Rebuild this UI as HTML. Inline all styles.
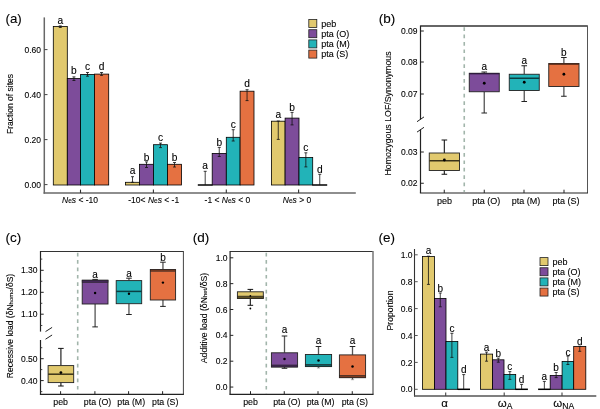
<!DOCTYPE html>
<html lang="en"><head><meta charset="utf-8"><title>Figure</title>
<style>
html,body{margin:0;padding:0;background:#fff;}
body{width:600px;height:409px;overflow:hidden;}
svg{display:block;font-family:"Liberation Sans",sans-serif;}
text{fill:#000;text-anchor:middle;stroke:#000;stroke-width:0.1px;}
.s{text-anchor:start}.e{text-anchor:end}
</style></head><body>
<svg width="600" height="409" viewBox="0 0 600 409">
<rect x="0" y="0" width="600" height="409" fill="#fff"/>
<text x="5.5" y="23.3" font-size="13.3" class="s">(a)</text>
<line x1="44.3" y1="17.4" x2="44.3" y2="193.7" stroke="#686868" stroke-width="1.5" />
<line x1="43.6" y1="193" x2="355.8" y2="193" stroke="#686868" stroke-width="1.5" />
<line x1="44.3" y1="184.6" x2="47.5" y2="184.6" stroke="#444" stroke-width="1" />
<text x="41" y="187.7" font-size="8.5" class="e">0.00</text>
<line x1="44.3" y1="139.6" x2="47.5" y2="139.6" stroke="#444" stroke-width="1" />
<text x="41" y="142.7" font-size="8.5" class="e">0.20</text>
<line x1="44.3" y1="94.6" x2="47.5" y2="94.6" stroke="#444" stroke-width="1" />
<text x="41" y="97.7" font-size="8.5" class="e">0.40</text>
<line x1="44.3" y1="49.6" x2="47.5" y2="49.6" stroke="#444" stroke-width="1" />
<text x="41" y="52.7" font-size="8.5" class="e">0.60</text>
<line x1="80.5" y1="193" x2="80.5" y2="189.6" stroke="#333" stroke-width="1.1" />
<line x1="153.4" y1="193" x2="153.4" y2="189.6" stroke="#333" stroke-width="1.1" />
<line x1="226.3" y1="193" x2="226.3" y2="189.6" stroke="#333" stroke-width="1.1" />
<line x1="298.6" y1="193" x2="298.6" y2="189.6" stroke="#333" stroke-width="1.1" />
<text transform="translate(12.5 104) rotate(-90)" font-size="8.5">Fraction of sites</text>
<rect x="53.3" y="26.4" width="14" height="158.6" fill="#E1C96E" stroke="#000" stroke-width="0.8"/>
<line x1="60.3" y1="25.9" x2="60.3" y2="27.5" stroke="#111" stroke-width="0.8" />
<line x1="58.8" y1="25.9" x2="61.8" y2="25.9" stroke="#111" stroke-width="0.8" />
<line x1="58.8" y1="27.5" x2="61.8" y2="27.5" stroke="#111" stroke-width="0.8" />
<text x="60.3" y="23.7" font-size="10.2">a</text>
<rect x="67.3" y="78.5" width="13.3" height="106.5" fill="#7D4C9A" stroke="#000" stroke-width="0.8"/>
<line x1="73.95" y1="76.9" x2="73.95" y2="80.5" stroke="#111" stroke-width="0.8" />
<line x1="72.45" y1="76.9" x2="75.45" y2="76.9" stroke="#111" stroke-width="0.8" />
<line x1="72.45" y1="80.5" x2="75.45" y2="80.5" stroke="#111" stroke-width="0.8" />
<text x="73.95" y="74.1" font-size="10.2">b</text>
<rect x="80.6" y="74.5" width="13.8" height="110.5" fill="#22B3B8" stroke="#000" stroke-width="0.8"/>
<line x1="87.5" y1="72.5" x2="87.5" y2="76.2" stroke="#111" stroke-width="0.8" />
<line x1="86" y1="72.5" x2="89" y2="72.5" stroke="#111" stroke-width="0.8" />
<line x1="86" y1="76.2" x2="89" y2="76.2" stroke="#111" stroke-width="0.8" />
<text x="87.5" y="70.3" font-size="10.2">c</text>
<rect x="94.4" y="74.1" width="14.3" height="110.9" fill="#E57141" stroke="#000" stroke-width="0.8"/>
<line x1="101.55" y1="72.5" x2="101.55" y2="75.4" stroke="#111" stroke-width="0.8" />
<line x1="100.05" y1="72.5" x2="103.05" y2="72.5" stroke="#111" stroke-width="0.8" />
<line x1="100.05" y1="75.4" x2="103.05" y2="75.4" stroke="#111" stroke-width="0.8" />
<text x="101.55" y="70.3" font-size="10.2">d</text>
<rect x="125.5" y="182.3" width="14" height="2.7" fill="#E1C96E" stroke="#000" stroke-width="0.8"/>
<line x1="132.5" y1="176.7" x2="132.5" y2="182.3" stroke="#111" stroke-width="0.8" />
<line x1="131" y1="176.7" x2="134" y2="176.7" stroke="#111" stroke-width="0.8" />
<line x1="131" y1="182.3" x2="134" y2="182.3" stroke="#111" stroke-width="0.8" />
<text x="132.5" y="174.3" font-size="10.2">a</text>
<rect x="139.5" y="164.3" width="14" height="20.7" fill="#7D4C9A" stroke="#000" stroke-width="0.8"/>
<line x1="146.5" y1="161.9" x2="146.5" y2="167.5" stroke="#111" stroke-width="0.8" />
<line x1="145" y1="161.9" x2="148" y2="161.9" stroke="#111" stroke-width="0.8" />
<line x1="145" y1="167.5" x2="148" y2="167.5" stroke="#111" stroke-width="0.8" />
<text x="146.5" y="160.6" font-size="10.2">b</text>
<rect x="153.5" y="144.7" width="14" height="40.3" fill="#22B3B8" stroke="#000" stroke-width="0.8"/>
<line x1="160.5" y1="143.1" x2="160.5" y2="147.6" stroke="#111" stroke-width="0.8" />
<line x1="159" y1="143.1" x2="162" y2="143.1" stroke="#111" stroke-width="0.8" />
<line x1="159" y1="147.6" x2="162" y2="147.6" stroke="#111" stroke-width="0.8" />
<text x="160.5" y="140.7" font-size="10.2">c</text>
<rect x="167.5" y="164.3" width="14" height="20.7" fill="#E57141" stroke="#000" stroke-width="0.8"/>
<line x1="174.5" y1="162.5" x2="174.5" y2="167" stroke="#111" stroke-width="0.8" />
<line x1="173" y1="162.5" x2="176" y2="162.5" stroke="#111" stroke-width="0.8" />
<line x1="173" y1="167" x2="176" y2="167" stroke="#111" stroke-width="0.8" />
<text x="174.5" y="160.6" font-size="10.2">b</text>
<line x1="197.8" y1="185" x2="212.6" y2="185" stroke="#000" stroke-width="1.5" />
<line x1="205.2" y1="171.3" x2="205.2" y2="185" stroke="#111" stroke-width="0.8" />
<line x1="203.7" y1="171.3" x2="206.7" y2="171.3" stroke="#111" stroke-width="0.8" />
<text x="205.2" y="168.6" font-size="10.2">a</text>
<rect x="212.2" y="153.4" width="14.1" height="31.6" fill="#7D4C9A" stroke="#000" stroke-width="0.8"/>
<line x1="219.25" y1="147.4" x2="219.25" y2="156.5" stroke="#111" stroke-width="0.8" />
<line x1="217.75" y1="147.4" x2="220.75" y2="147.4" stroke="#111" stroke-width="0.8" />
<line x1="217.75" y1="156.5" x2="220.75" y2="156.5" stroke="#111" stroke-width="0.8" />
<text x="219.25" y="145.8" font-size="10.2">b</text>
<rect x="226.3" y="137.3" width="13.8" height="47.7" fill="#22B3B8" stroke="#000" stroke-width="0.8"/>
<line x1="233.2" y1="129.7" x2="233.2" y2="141" stroke="#111" stroke-width="0.8" />
<line x1="231.7" y1="129.7" x2="234.7" y2="129.7" stroke="#111" stroke-width="0.8" />
<line x1="231.7" y1="141" x2="234.7" y2="141" stroke="#111" stroke-width="0.8" />
<text x="233.2" y="127.6" font-size="10.2">c</text>
<rect x="240.1" y="91.2" width="13.9" height="93.8" fill="#E57141" stroke="#000" stroke-width="0.8"/>
<line x1="247.05" y1="89.7" x2="247.05" y2="100.6" stroke="#111" stroke-width="0.8" />
<line x1="245.55" y1="89.7" x2="248.55" y2="89.7" stroke="#111" stroke-width="0.8" />
<line x1="245.55" y1="100.6" x2="248.55" y2="100.6" stroke="#111" stroke-width="0.8" />
<text x="247.05" y="86.8" font-size="10.2">d</text>
<rect x="271.4" y="121.2" width="13.7" height="63.8" fill="#E1C96E" stroke="#000" stroke-width="0.8"/>
<line x1="278.25" y1="121" x2="278.25" y2="139.4" stroke="#111" stroke-width="0.8" />
<line x1="276.75" y1="121" x2="279.75" y2="121" stroke="#111" stroke-width="0.8" />
<line x1="276.75" y1="139.4" x2="279.75" y2="139.4" stroke="#111" stroke-width="0.8" />
<text x="278.25" y="118.4" font-size="10.2">a</text>
<rect x="285.1" y="118.1" width="13.9" height="66.9" fill="#7D4C9A" stroke="#000" stroke-width="0.8"/>
<line x1="292.05" y1="112.4" x2="292.05" y2="124.9" stroke="#111" stroke-width="0.8" />
<line x1="290.55" y1="112.4" x2="293.55" y2="112.4" stroke="#111" stroke-width="0.8" />
<line x1="290.55" y1="124.9" x2="293.55" y2="124.9" stroke="#111" stroke-width="0.8" />
<text x="292.05" y="110.8" font-size="10.2">b</text>
<rect x="299" y="157.5" width="13.7" height="27.5" fill="#22B3B8" stroke="#000" stroke-width="0.8"/>
<line x1="305.85" y1="152.8" x2="305.85" y2="166.9" stroke="#111" stroke-width="0.8" />
<line x1="304.35" y1="152.8" x2="307.35" y2="152.8" stroke="#111" stroke-width="0.8" />
<line x1="304.35" y1="166.9" x2="307.35" y2="166.9" stroke="#111" stroke-width="0.8" />
<text x="305.85" y="150.8" font-size="10.2">c</text>
<line x1="312.3" y1="185" x2="327.2" y2="185" stroke="#000" stroke-width="1.5" />
<line x1="319.75" y1="174.3" x2="319.75" y2="185" stroke="#111" stroke-width="0.8" />
<line x1="318.25" y1="174.3" x2="321.25" y2="174.3" stroke="#111" stroke-width="0.8" />
<text x="319.75" y="172.6" font-size="10.2">d</text>
<text x="80" y="203" font-size="8.5"><tspan font-style="italic">N</tspan><tspan font-size="6.5">e</tspan><tspan font-style="italic">s</tspan> &lt; -10</text>
<text x="153.7" y="203" font-size="8.5">-10&lt; <tspan font-style="italic">N</tspan><tspan font-size="6.5">e</tspan><tspan font-style="italic">s</tspan> &lt; -1</text>
<text x="227.4" y="203" font-size="8.5">-1 &lt; <tspan font-style="italic">N</tspan><tspan font-size="6.5">e</tspan><tspan font-style="italic">s</tspan> &lt; 0</text>
<text x="297" y="203" font-size="8.5"><tspan font-style="italic">N</tspan><tspan font-size="6.5">e</tspan><tspan font-style="italic">s</tspan> &gt; 0</text>
<rect x="308.8" y="19.5" width="8" height="8" fill="#E1C96E" stroke="#222" stroke-width="0.8"/>
<text x="321.3" y="26.7" font-size="9" class="s">peb</text>
<rect x="308.8" y="29.7" width="8" height="8" fill="#7D4C9A" stroke="#222" stroke-width="0.8"/>
<text x="321.3" y="36.9" font-size="9" class="s">pta (O)</text>
<rect x="308.8" y="39.9" width="8" height="8" fill="#22B3B8" stroke="#222" stroke-width="0.8"/>
<text x="321.3" y="47.1" font-size="9" class="s">pta (M)</text>
<rect x="308.8" y="50.1" width="8" height="8" fill="#E57141" stroke="#222" stroke-width="0.8"/>
<text x="321.3" y="57.3" font-size="9" class="s">pta (S)</text>
<text x="378.7" y="23.2" font-size="13.5" class="s">(b)</text>
<line x1="464.25" y1="27.2" x2="464.25" y2="192" stroke="#A2B5AB" stroke-width="1.6" stroke-dasharray="3.7 3.7"/>
<line x1="420.5" y1="26" x2="587.5" y2="26" stroke="#333" stroke-width="1.4" />
<line x1="587.5" y1="25.5" x2="587.5" y2="193" stroke="#555" stroke-width="1" />
<line x1="419.9" y1="193" x2="588" y2="193" stroke="#222" stroke-width="1.2" />
<line x1="420.5" y1="25.5" x2="420.5" y2="119.5" stroke="#222" stroke-width="1.2" />
<line x1="420.5" y1="129.5" x2="420.5" y2="193" stroke="#222" stroke-width="1.2" />
<line x1="417" y1="121.7" x2="424" y2="116.9" stroke="#222" stroke-width="1" />
<line x1="417" y1="132.1" x2="424" y2="127.3" stroke="#222" stroke-width="1" />
<line x1="420.5" y1="31" x2="423.8" y2="31" stroke="#222" stroke-width="1" />
<text x="417.5" y="34.1" font-size="8.5" class="e">0.09</text>
<line x1="420.5" y1="62" x2="423.8" y2="62" stroke="#222" stroke-width="1" />
<text x="417.5" y="65.1" font-size="8.5" class="e">0.08</text>
<line x1="420.5" y1="94" x2="423.8" y2="94" stroke="#222" stroke-width="1" />
<text x="417.5" y="97.1" font-size="8.5" class="e">0.07</text>
<line x1="420.5" y1="152" x2="423.8" y2="152" stroke="#222" stroke-width="1" />
<text x="417.5" y="155.1" font-size="8.5" class="e">0.03</text>
<line x1="420.5" y1="183.25" x2="423.8" y2="183.25" stroke="#222" stroke-width="1" />
<text x="417.5" y="186.35" font-size="8.5" class="e">0.02</text>
<line x1="444.25" y1="193" x2="444.25" y2="189.7" stroke="#222" stroke-width="1" />
<text x="444.55" y="203.7" font-size="9">peb</text>
<line x1="484.25" y1="193" x2="484.25" y2="189.7" stroke="#222" stroke-width="1" />
<text x="486.25" y="203.7" font-size="9">pta (O)</text>
<line x1="524" y1="193" x2="524" y2="189.7" stroke="#222" stroke-width="1" />
<text x="526" y="203.7" font-size="9">pta (M)</text>
<line x1="564" y1="193" x2="564" y2="189.7" stroke="#222" stroke-width="1" />
<text x="566" y="203.7" font-size="9">pta (S)</text>
<text transform="translate(391 113.5) rotate(-90)" font-size="8.8">Homozygous LOF/Synonymous</text>
<line x1="444.38" y1="140" x2="444.38" y2="153" stroke="#333" stroke-width="1.3" />
<line x1="444.38" y1="170.5" x2="444.38" y2="174.25" stroke="#333" stroke-width="1.3" />
<line x1="441.57" y1="140" x2="447.18" y2="140" stroke="#111" stroke-width="1" />
<line x1="441.57" y1="174.25" x2="447.18" y2="174.25" stroke="#111" stroke-width="1" />
<rect x="429.25" y="153" width="30.25" height="17.5" fill="#E1C96E" stroke="#222" stroke-width="0.9"/>
<line x1="429.25" y1="160.75" x2="459.5" y2="160.75" stroke="#3a3318" stroke-width="1.5" />
<circle cx="444.38" cy="160" r="1.4" fill="#000"/>
<line x1="484.25" y1="72" x2="484.25" y2="73.25" stroke="#555" stroke-width="1.3" />
<line x1="484.25" y1="91.75" x2="484.25" y2="113" stroke="#555" stroke-width="1.3" />
<line x1="481.45" y1="72" x2="487.05" y2="72" stroke="#222" stroke-width="1" />
<line x1="481.45" y1="113" x2="487.05" y2="113" stroke="#222" stroke-width="1" />
<rect x="469.25" y="73.25" width="30" height="18.5" fill="#7D4C9A" stroke="#222" stroke-width="0.9"/>
<line x1="469.25" y1="73.7" x2="499.25" y2="73.7" stroke="#2e1b3c" stroke-width="1.3" />
<circle cx="484.25" cy="83.25" r="1.4" fill="#000"/>
<text x="484.25" y="70.3" font-size="10">a</text>
<line x1="524.25" y1="65.75" x2="524.25" y2="74.25" stroke="#555" stroke-width="1.3" />
<line x1="524.25" y1="90.5" x2="524.25" y2="101.5" stroke="#555" stroke-width="1.3" />
<line x1="521.45" y1="65.75" x2="527.05" y2="65.75" stroke="#222" stroke-width="1" />
<line x1="521.45" y1="101.5" x2="527.05" y2="101.5" stroke="#222" stroke-width="1" />
<rect x="509.25" y="74.25" width="30" height="16.25" fill="#22B3B8" stroke="#222" stroke-width="0.9"/>
<line x1="509.25" y1="78.25" x2="539.25" y2="78.25" stroke="#0b3f42" stroke-width="1.5" />
<circle cx="524.25" cy="82.25" r="1.4" fill="#000"/>
<text x="524.25" y="64" font-size="10">a</text>
<line x1="563.88" y1="57.5" x2="563.88" y2="63.5" stroke="#555" stroke-width="1.3" />
<line x1="563.88" y1="86.5" x2="563.88" y2="96.25" stroke="#555" stroke-width="1.3" />
<line x1="561.08" y1="57.5" x2="566.67" y2="57.5" stroke="#222" stroke-width="1" />
<line x1="561.08" y1="96.25" x2="566.67" y2="96.25" stroke="#222" stroke-width="1" />
<rect x="548.75" y="63.5" width="30.25" height="23" fill="#E57141" stroke="#222" stroke-width="0.9"/>
<line x1="548.75" y1="64.2" x2="579" y2="64.2" stroke="#5a2a17" stroke-width="1.3" />
<circle cx="563.88" cy="74.25" r="1.4" fill="#000"/>
<text x="563.88" y="55.8" font-size="10">b</text>
<text x="5.5" y="242" font-size="13.5" class="s">(c)</text>
<line x1="77.7" y1="252.7" x2="77.7" y2="393.4" stroke="#A2B5AB" stroke-width="1.6" stroke-dasharray="3.7 3.7"/>
<line x1="40.5" y1="251.5" x2="183.4" y2="251.5" stroke="#333" stroke-width="1" />
<line x1="183.4" y1="251" x2="183.4" y2="394.4" stroke="#444" stroke-width="1" />
<line x1="39.9" y1="394.4" x2="183.9" y2="394.4" stroke="#222" stroke-width="1.2" />
<line x1="40.5" y1="251" x2="40.5" y2="331.6" stroke="#222" stroke-width="1.2" />
<line x1="40.5" y1="340" x2="40.5" y2="394.4" stroke="#222" stroke-width="1.2" />
<line x1="45.5" y1="331.6" x2="52.1" y2="327.4" stroke="#222" stroke-width="1" />
<line x1="45.5" y1="339.2" x2="52.1" y2="335" stroke="#222" stroke-width="1" />
<line x1="40.5" y1="270.3" x2="43.7" y2="270.3" stroke="#222" stroke-width="1" />
<text x="37.5" y="273.4" font-size="8.5" class="e">1.30</text>
<line x1="40.5" y1="292.3" x2="43.7" y2="292.3" stroke="#222" stroke-width="1" />
<text x="37.5" y="295.4" font-size="8.5" class="e">1.20</text>
<line x1="40.5" y1="314.2" x2="43.7" y2="314.2" stroke="#222" stroke-width="1" />
<text x="37.5" y="317.3" font-size="8.5" class="e">1.10</text>
<line x1="40.5" y1="358.7" x2="43.7" y2="358.7" stroke="#222" stroke-width="1" />
<text x="37.5" y="361.8" font-size="8.5" class="e">0.50</text>
<line x1="40.5" y1="380.6" x2="43.7" y2="380.6" stroke="#222" stroke-width="1" />
<text x="37.5" y="383.7" font-size="8.5" class="e">0.40</text>
<line x1="40.5" y1="259.1" x2="42.3" y2="259.1" stroke="#333" stroke-width="0.9" />
<line x1="40.5" y1="281.3" x2="42.3" y2="281.3" stroke="#333" stroke-width="0.9" />
<line x1="40.5" y1="303.3" x2="42.3" y2="303.3" stroke="#333" stroke-width="0.9" />
<line x1="40.5" y1="325.5" x2="42.3" y2="325.5" stroke="#333" stroke-width="0.9" />
<line x1="40.5" y1="347.7" x2="42.3" y2="347.7" stroke="#333" stroke-width="0.9" />
<line x1="40.5" y1="369.6" x2="42.3" y2="369.6" stroke="#333" stroke-width="0.9" />
<line x1="40.5" y1="391.6" x2="42.3" y2="391.6" stroke="#333" stroke-width="0.9" />
<line x1="60.6" y1="394.4" x2="60.6" y2="391.2" stroke="#222" stroke-width="1" />
<text x="60.6" y="404.5" font-size="8.8">peb</text>
<line x1="94.9" y1="394.4" x2="94.9" y2="391.2" stroke="#222" stroke-width="1" />
<text x="97.5" y="404.5" font-size="8.8">pta (O)</text>
<line x1="128.6" y1="394.4" x2="128.6" y2="391.2" stroke="#222" stroke-width="1" />
<text x="131.2" y="404.5" font-size="8.8">pta (M)</text>
<line x1="162.6" y1="394.4" x2="162.6" y2="391.2" stroke="#222" stroke-width="1" />
<text x="165.2" y="404.5" font-size="8.8">pta (S)</text>
<text transform="translate(13 326) rotate(-90)" font-size="8.5">Recessive load (δN<tspan font-size="6">homo</tspan>/δS)</text>
<line x1="60.9" y1="348.4" x2="60.9" y2="365.6" stroke="#333" stroke-width="1.3" />
<line x1="60.9" y1="382.6" x2="60.9" y2="386" stroke="#333" stroke-width="1.3" />
<line x1="58.1" y1="348.4" x2="63.7" y2="348.4" stroke="#111" stroke-width="1" />
<line x1="58.1" y1="386" x2="63.7" y2="386" stroke="#111" stroke-width="1" />
<rect x="48.1" y="365.6" width="25.6" height="17" fill="#E1C96E" stroke="#222" stroke-width="0.9"/>
<line x1="48.1" y1="374.2" x2="73.7" y2="374.2" stroke="#3a3318" stroke-width="1.5" />
<circle cx="60.9" cy="372.6" r="1.4" fill="#000"/>
<line x1="95.1" y1="279.4" x2="95.1" y2="280.2" stroke="#555" stroke-width="1.3" />
<line x1="95.1" y1="304" x2="95.1" y2="326.9" stroke="#555" stroke-width="1.3" />
<line x1="92.3" y1="279.4" x2="97.9" y2="279.4" stroke="#222" stroke-width="1" />
<line x1="92.3" y1="326.9" x2="97.9" y2="326.9" stroke="#222" stroke-width="1" />
<rect x="82.2" y="280.2" width="25.8" height="23.8" fill="#7D4C9A" stroke="#222" stroke-width="0.9"/>
<rect x="82.2" y="280.2" width="25.8" height="2.1" fill="#432757" stroke="#222" stroke-width="0.6"/>
<circle cx="95.1" cy="293" r="1.2" fill="#000"/>
<text x="95.1" y="277.8" font-size="10">a</text>
<line x1="128.95" y1="278.2" x2="128.95" y2="280.6" stroke="#555" stroke-width="1.3" />
<line x1="128.95" y1="303.7" x2="128.95" y2="314.5" stroke="#555" stroke-width="1.3" />
<line x1="126.15" y1="278.2" x2="131.75" y2="278.2" stroke="#222" stroke-width="1" />
<line x1="126.15" y1="314.5" x2="131.75" y2="314.5" stroke="#222" stroke-width="1" />
<rect x="116.2" y="280.6" width="25.5" height="23.1" fill="#22B3B8" stroke="#222" stroke-width="0.9"/>
<line x1="116.2" y1="291.4" x2="141.7" y2="291.4" stroke="#0b3f42" stroke-width="1.5" />
<circle cx="128.95" cy="293.7" r="1.2" fill="#000"/>
<text x="128.95" y="276.6" font-size="10">a</text>
<line x1="162.95" y1="262.2" x2="162.95" y2="269.6" stroke="#555" stroke-width="1.3" />
<line x1="162.95" y1="300" x2="162.95" y2="306.4" stroke="#555" stroke-width="1.3" />
<line x1="160.15" y1="262.2" x2="165.75" y2="262.2" stroke="#222" stroke-width="1" />
<line x1="160.15" y1="306.4" x2="165.75" y2="306.4" stroke="#222" stroke-width="1" />
<rect x="150.3" y="269.6" width="25.3" height="30.4" fill="#E57141" stroke="#222" stroke-width="0.9"/>
<rect x="150.3" y="269.6" width="25.3" height="1.6" fill="#7c3b21" stroke="#222" stroke-width="0.6"/>
<circle cx="162.95" cy="282.6" r="1.2" fill="#000"/>
<text x="162.95" y="260.9" font-size="10">b</text>
<text x="192.7" y="242" font-size="13.5" class="s">(d)</text>
<line x1="266.3" y1="252.7" x2="266.3" y2="393.4" stroke="#A2B5AB" stroke-width="1.6" stroke-dasharray="3.7 3.7"/>
<line x1="230.1" y1="251.5" x2="373" y2="251.5" stroke="#333" stroke-width="1" />
<line x1="373" y1="251" x2="373" y2="394.4" stroke="#777" stroke-width="1.5" />
<line x1="229.5" y1="394.4" x2="373.5" y2="394.4" stroke="#222" stroke-width="1.2" />
<line x1="230.1" y1="251" x2="230.1" y2="394.4" stroke="#222" stroke-width="1.2" />
<line x1="230.1" y1="257.8" x2="233.3" y2="257.8" stroke="#222" stroke-width="1" />
<text x="227.5" y="260.9" font-size="8.5" class="e">1.0</text>
<line x1="230.1" y1="283.65" x2="233.3" y2="283.65" stroke="#222" stroke-width="1" />
<text x="227.5" y="286.75" font-size="8.5" class="e">0.8</text>
<line x1="230.1" y1="309.5" x2="233.3" y2="309.5" stroke="#222" stroke-width="1" />
<text x="227.5" y="312.6" font-size="8.5" class="e">0.6</text>
<line x1="230.1" y1="335.35" x2="233.3" y2="335.35" stroke="#222" stroke-width="1" />
<text x="227.5" y="338.45" font-size="8.5" class="e">0.4</text>
<line x1="230.1" y1="361.2" x2="233.3" y2="361.2" stroke="#222" stroke-width="1" />
<text x="227.5" y="364.3" font-size="8.5" class="e">0.2</text>
<line x1="230.1" y1="387.05" x2="233.3" y2="387.05" stroke="#222" stroke-width="1" />
<text x="227.5" y="390.15" font-size="8.5" class="e">0.0</text>
<line x1="250.5" y1="394.4" x2="250.5" y2="391.2" stroke="#222" stroke-width="1" />
<text x="250.5" y="404.5" font-size="8.8">peb</text>
<line x1="284.25" y1="394.4" x2="284.25" y2="391.2" stroke="#222" stroke-width="1" />
<text x="286.85" y="404.5" font-size="8.8">pta (O)</text>
<line x1="318" y1="394.4" x2="318" y2="391.2" stroke="#222" stroke-width="1" />
<text x="320.6" y="404.5" font-size="8.8">pta (M)</text>
<line x1="352.25" y1="394.4" x2="352.25" y2="391.2" stroke="#222" stroke-width="1" />
<text x="354.85" y="404.5" font-size="8.8">pta (S)</text>
<text transform="translate(207.3 318) rotate(-90)" font-size="8.7">Additive load (δN<tspan font-size="6">het</tspan>/δS)</text>
<line x1="250.35" y1="289.4" x2="250.35" y2="291.8" stroke="#333" stroke-width="1.3" />
<line x1="250.35" y1="298.5" x2="250.35" y2="305.3" stroke="#333" stroke-width="1.3" />
<line x1="247.55" y1="289.4" x2="253.15" y2="289.4" stroke="#111" stroke-width="1" />
<line x1="247.55" y1="305.3" x2="253.15" y2="305.3" stroke="#111" stroke-width="1" />
<rect x="237.4" y="291.8" width="25.9" height="6.7" fill="#E1C96E" stroke="#222" stroke-width="0.9"/>
<rect x="237.4" y="296.1" width="25.9" height="2.4" fill="#5e5124" stroke="#222" stroke-width="0.6"/>
<circle cx="250.35" cy="295.9" r="0.9" fill="#000"/>
<circle cx="250.35" cy="308.5" r="0.9" fill="#000"/>
<line x1="284.5" y1="336" x2="284.5" y2="352.8" stroke="#555" stroke-width="1.3" />
<line x1="284.5" y1="367" x2="284.5" y2="368.3" stroke="#555" stroke-width="1.3" />
<line x1="281.7" y1="336" x2="287.3" y2="336" stroke="#222" stroke-width="1" />
<line x1="281.7" y1="368.3" x2="287.3" y2="368.3" stroke="#222" stroke-width="1" />
<rect x="271.4" y="352.8" width="26.2" height="14.2" fill="#7D4C9A" stroke="#222" stroke-width="0.9"/>
<rect x="271.4" y="365" width="26.2" height="2" fill="#432757" stroke="#222" stroke-width="0.6"/>
<circle cx="284.5" cy="358.9" r="1.25" fill="#000"/>
<text x="284.5" y="333.3" font-size="10">a</text>
<line x1="318.5" y1="346.5" x2="318.5" y2="354.5" stroke="#555" stroke-width="1.3" />
<line x1="318.5" y1="366.6" x2="318.5" y2="368" stroke="#555" stroke-width="1.3" />
<line x1="315.7" y1="346.5" x2="321.3" y2="346.5" stroke="#222" stroke-width="1" />
<line x1="316.9" y1="368" x2="320.1" y2="368" stroke="#999" stroke-width="0.8" />
<rect x="305.4" y="354.5" width="26.2" height="12.1" fill="#22B3B8" stroke="#222" stroke-width="0.9"/>
<rect x="305.4" y="364.3" width="26.2" height="2.3" fill="#115b5e" stroke="#222" stroke-width="0.6"/>
<circle cx="318.5" cy="360.6" r="1.25" fill="#000"/>
<text x="318.5" y="344.4" font-size="10">a</text>
<line x1="352.5" y1="346.5" x2="352.5" y2="354.9" stroke="#555" stroke-width="1.3" />
<line x1="352.5" y1="377.7" x2="352.5" y2="379.7" stroke="#555" stroke-width="1.3" />
<line x1="349.7" y1="346.5" x2="355.3" y2="346.5" stroke="#222" stroke-width="1" />
<line x1="350.9" y1="379.7" x2="354.1" y2="379.7" stroke="#999" stroke-width="0.8" />
<rect x="339.4" y="354.9" width="26.2" height="22.8" fill="#E57141" stroke="#222" stroke-width="0.9"/>
<rect x="339.4" y="375.4" width="26.2" height="2.3" fill="#7c3b21" stroke="#222" stroke-width="0.6"/>
<circle cx="352.5" cy="366.6" r="1.25" fill="#000"/>
<text x="352.5" y="343.8" font-size="10">a</text>
<text x="378.5" y="242" font-size="13.5" class="s">(e)</text>
<line x1="414.5" y1="249" x2="414.5" y2="396.5" stroke="#333" stroke-width="1.1" />
<line x1="414" y1="396" x2="596.3" y2="396" stroke="#555" stroke-width="1.3" />
<line x1="414.5" y1="254.8" x2="417.7" y2="254.8" stroke="#555" stroke-width="1" />
<text x="412.5" y="257.9" font-size="8.5" class="e">1.0</text>
<line x1="414.5" y1="281.7" x2="417.7" y2="281.7" stroke="#555" stroke-width="1" />
<text x="412.5" y="284.8" font-size="8.5" class="e">0.8</text>
<line x1="414.5" y1="308.6" x2="417.7" y2="308.6" stroke="#555" stroke-width="1" />
<text x="412.5" y="311.7" font-size="8.5" class="e">0.6</text>
<line x1="414.5" y1="335.5" x2="417.7" y2="335.5" stroke="#555" stroke-width="1" />
<text x="412.5" y="338.6" font-size="8.5" class="e">0.4</text>
<line x1="414.5" y1="362.4" x2="417.7" y2="362.4" stroke="#555" stroke-width="1" />
<text x="412.5" y="365.5" font-size="8.5" class="e">0.2</text>
<line x1="414.5" y1="389.3" x2="417.7" y2="389.3" stroke="#555" stroke-width="1" />
<text x="412.5" y="392.4" font-size="8.5" class="e">0.0</text>
<line x1="445.7" y1="396" x2="445.7" y2="392.6" stroke="#444" stroke-width="1.1" />
<line x1="504.2" y1="396" x2="504.2" y2="392.6" stroke="#444" stroke-width="1.1" />
<line x1="562" y1="396" x2="562" y2="392.6" stroke="#444" stroke-width="1.1" />
<text transform="translate(393.3 310.5) rotate(-90)" font-size="8.7">Proportion</text>
<rect x="422.4" y="256.5" width="12.1" height="132.8" fill="#E1C96E" stroke="#000" stroke-width="0.8"/>
<line x1="428.45" y1="256.2" x2="428.45" y2="284.4" stroke="#111" stroke-width="0.8" />
<line x1="426.95" y1="256.2" x2="429.95" y2="256.2" stroke="#111" stroke-width="0.8" />
<line x1="426.95" y1="284.4" x2="429.95" y2="284.4" stroke="#111" stroke-width="0.8" />
<text x="428.45" y="253.9" font-size="10">a</text>
<rect x="434.5" y="298.4" width="11.5" height="90.9" fill="#7D4C9A" stroke="#000" stroke-width="0.8"/>
<line x1="440.25" y1="293" x2="440.25" y2="306.8" stroke="#111" stroke-width="0.8" />
<line x1="438.75" y1="293" x2="441.75" y2="293" stroke="#111" stroke-width="0.8" />
<line x1="438.75" y1="306.8" x2="441.75" y2="306.8" stroke="#111" stroke-width="0.8" />
<text x="440.25" y="292.2" font-size="10">b</text>
<rect x="446" y="341.4" width="11.8" height="47.9" fill="#22B3B8" stroke="#000" stroke-width="0.8"/>
<line x1="451.9" y1="333.3" x2="451.9" y2="357.4" stroke="#111" stroke-width="0.8" />
<line x1="450.4" y1="333.3" x2="453.4" y2="333.3" stroke="#111" stroke-width="0.8" />
<line x1="450.4" y1="357.4" x2="453.4" y2="357.4" stroke="#111" stroke-width="0.8" />
<text x="451.9" y="331.8" font-size="10">c</text>
<line x1="457.4" y1="389.3" x2="470" y2="389.3" stroke="#000" stroke-width="1.5" />
<line x1="463.7" y1="374.6" x2="463.7" y2="389.3" stroke="#111" stroke-width="0.8" />
<line x1="462.2" y1="374.6" x2="465.2" y2="374.6" stroke="#111" stroke-width="0.8" />
<text x="463.7" y="372.7" font-size="10">d</text>
<rect x="480.5" y="354.1" width="12.1" height="35.2" fill="#E1C96E" stroke="#000" stroke-width="0.8"/>
<line x1="486.55" y1="352.1" x2="486.55" y2="361.2" stroke="#111" stroke-width="0.8" />
<line x1="485.05" y1="352.1" x2="488.05" y2="352.1" stroke="#111" stroke-width="0.8" />
<line x1="485.05" y1="361.2" x2="488.05" y2="361.2" stroke="#111" stroke-width="0.8" />
<text x="486.55" y="351" font-size="10">a</text>
<rect x="492.6" y="359.8" width="11.4" height="29.5" fill="#7D4C9A" stroke="#000" stroke-width="0.8"/>
<line x1="498.3" y1="358.1" x2="498.3" y2="362.2" stroke="#111" stroke-width="0.8" />
<line x1="496.8" y1="358.1" x2="499.8" y2="358.1" stroke="#111" stroke-width="0.8" />
<line x1="496.8" y1="362.2" x2="499.8" y2="362.2" stroke="#111" stroke-width="0.8" />
<text x="498.3" y="356.6" font-size="10">b</text>
<rect x="504" y="374.5" width="11.7" height="14.8" fill="#22B3B8" stroke="#000" stroke-width="0.8"/>
<line x1="509.85" y1="371.6" x2="509.85" y2="379.4" stroke="#111" stroke-width="0.8" />
<line x1="508.35" y1="371.6" x2="511.35" y2="371.6" stroke="#111" stroke-width="0.8" />
<line x1="508.35" y1="379.4" x2="511.35" y2="379.4" stroke="#111" stroke-width="0.8" />
<text x="509.85" y="370.1" font-size="10">c</text>
<line x1="515.3" y1="389.3" x2="527.9" y2="389.3" stroke="#000" stroke-width="1.5" />
<line x1="521.6" y1="384.4" x2="521.6" y2="389.3" stroke="#111" stroke-width="0.8" />
<line x1="520.1" y1="384.4" x2="523.1" y2="384.4" stroke="#111" stroke-width="0.8" />
<text x="521.6" y="383.2" font-size="10">d</text>
<line x1="538.1" y1="389.3" x2="550.6" y2="389.3" stroke="#000" stroke-width="1.5" />
<line x1="544.35" y1="381.4" x2="544.35" y2="389.3" stroke="#111" stroke-width="0.8" />
<line x1="542.85" y1="381.4" x2="545.85" y2="381.4" stroke="#111" stroke-width="0.8" />
<text x="544.35" y="380" font-size="10">a</text>
<rect x="550.2" y="375.4" width="11.9" height="13.9" fill="#7D4C9A" stroke="#000" stroke-width="0.8"/>
<line x1="556.15" y1="372.5" x2="556.15" y2="377.6" stroke="#111" stroke-width="0.8" />
<line x1="554.65" y1="372.5" x2="557.65" y2="372.5" stroke="#111" stroke-width="0.8" />
<line x1="554.65" y1="377.6" x2="557.65" y2="377.6" stroke="#111" stroke-width="0.8" />
<text x="556.15" y="371.3" font-size="10">b</text>
<rect x="562.1" y="361.4" width="11.6" height="27.9" fill="#22B3B8" stroke="#000" stroke-width="0.8"/>
<line x1="567.9" y1="356" x2="567.9" y2="364.5" stroke="#111" stroke-width="0.8" />
<line x1="566.4" y1="356" x2="569.4" y2="356" stroke="#111" stroke-width="0.8" />
<line x1="566.4" y1="364.5" x2="569.4" y2="364.5" stroke="#111" stroke-width="0.8" />
<text x="567.9" y="356.1" font-size="10">c</text>
<rect x="573.7" y="346.4" width="12.1" height="42.9" fill="#E57141" stroke="#000" stroke-width="0.8"/>
<line x1="579.75" y1="346.2" x2="579.75" y2="351.3" stroke="#111" stroke-width="0.8" />
<line x1="578.25" y1="346.2" x2="581.25" y2="346.2" stroke="#111" stroke-width="0.8" />
<line x1="578.25" y1="351.3" x2="581.25" y2="351.3" stroke="#111" stroke-width="0.8" />
<text x="579.75" y="344.7" font-size="10">d</text>
<text x="444.6" y="407.2" font-size="11.5">α</text>
<text x="505" y="407.2" font-size="11.5">ω<tspan font-size="8.6" dy="2">A</tspan></text>
<text x="563.8" y="407.2" font-size="11.5">ω<tspan font-size="8.6" dy="2">NA</tspan></text>
<rect x="540" y="257.6" width="8" height="8" fill="#E1C96E" stroke="#222" stroke-width="0.8"/>
<text x="552.5" y="264.8" font-size="9" class="s">peb</text>
<rect x="540" y="267.75" width="8" height="8" fill="#7D4C9A" stroke="#222" stroke-width="0.8"/>
<text x="552.5" y="274.95" font-size="9" class="s">pta (O)</text>
<rect x="540" y="277.9" width="8" height="8" fill="#22B3B8" stroke="#222" stroke-width="0.8"/>
<text x="552.5" y="285.1" font-size="9" class="s">pta (M)</text>
<rect x="540" y="288.05" width="8" height="8" fill="#E57141" stroke="#222" stroke-width="0.8"/>
<text x="552.5" y="295.25" font-size="9" class="s">pta (S)</text>
</svg>
</body></html>
